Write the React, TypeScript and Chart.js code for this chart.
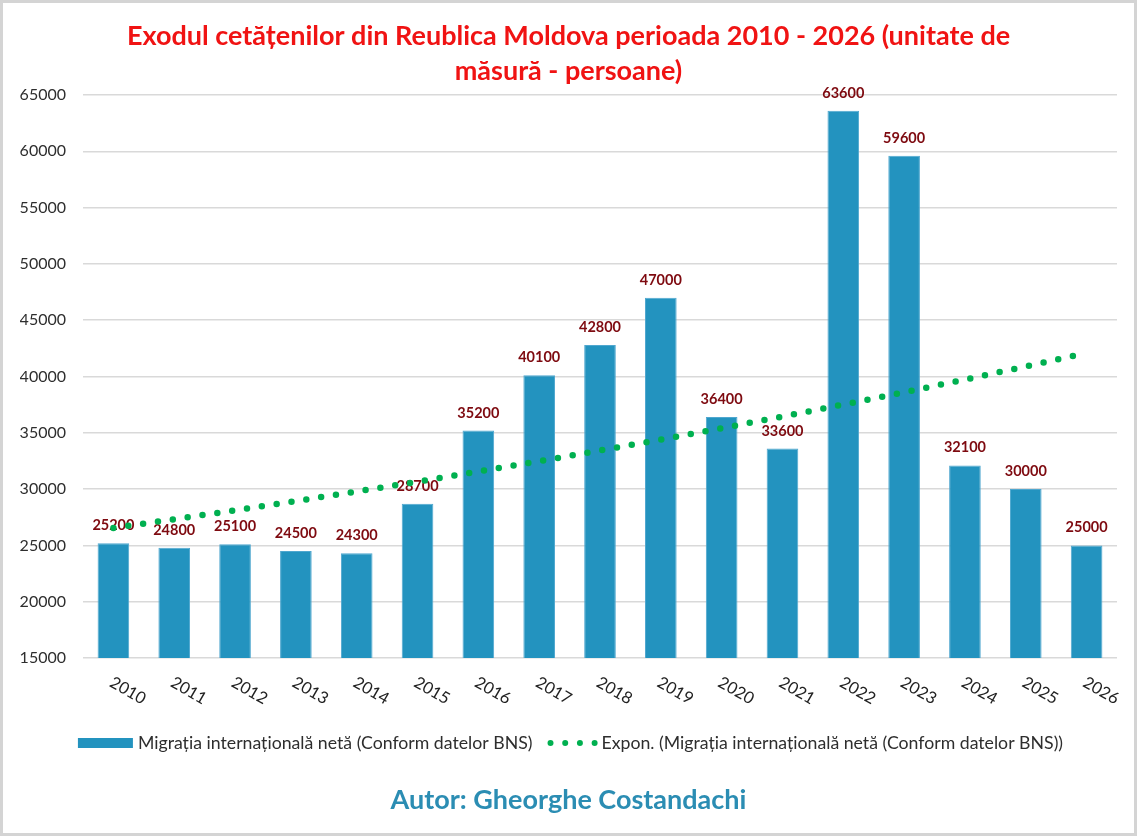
import React, { useEffect, useRef } from "react";
import { Chart, registerables } from "chart.js";

Chart.register(...registerables);

const years = ["2010", "2011", "2012", "2013", "2014", "2015", "2016", "2017", "2018", "2019", "2020", "2021", "2022", "2023", "2024", "2025", "2026"];
const migration = [25200, 24800, 25100, 24500, 24300, 28700, 35200, 40100, 42800, 47000, 36400, 33600, 63600, 59600, 32100, 30000, 25000];
const trend = [26550, 27320, 28120, 28940, 29790, 30660, 31560, 32480, 33430, 34400, 35410, 36440, 37510, 38600, 39730, 40890, 42090];
const yMin = 15000;
const yMax = 65000;
const yStep = 5000;
const titleLines = ["Exodul cetățenilor din Reublica Moldova perioada 2010 - 2026 (unitate de", "măsură - persoane)"];
const legendLabels = ["Migrația internațională netă (Conform datelor BNS)", "Expon. (Migrația internațională netă (Conform datelor BNS))"];
const author = "Autor: Gheorghe Costandachi";

const FONT = "Lato, 'Noto Sans', sans-serif";
const BAR = "#2393BF";
const GREEN = "#00B050";
const LABEL_RED = "#7E0A10";
const TEXT = "#2E2E2E";

export default function App() {
  const ref = useRef<HTMLCanvasElement>(null);

  useEffect(() => {
    const canvas = ref.current!;

    const frame = {
      id: "frame",
      beforeDraw(c: any) {
        const ctx = c.ctx;
        ctx.save();
        ctx.fillStyle = "#ffffff";
        ctx.fillRect(0, 0, c.width, c.height);
        ctx.restore();
      },
      afterDraw(c: any) {
        const ctx = c.ctx;
        ctx.save();
        ctx.strokeStyle = "#D4D4D4";
        ctx.lineWidth = 3;
        ctx.strokeRect(1.5, 1.5, c.width - 3, c.height - 3);
        ctx.restore();
      },
    };

    const barLabels = {
      id: "barLabels",
      afterDatasetDraw(c: any, args: any) {
        if (args.index !== 0) return;
        const ctx = c.ctx;
        const meta = c.getDatasetMeta(0);
        ctx.save();
        ctx.font = `bold 14.5px ${FONT}`;
        ctx.fillStyle = LABEL_RED;
        ctx.textAlign = "center";
        ctx.textBaseline = "alphabetic";
        meta.data.forEach((el: any, i: number) => {
          ctx.fillText(String(migration[i]), el.x, el.y - 13);
        });
        ctx.restore();
      },
    };

    const xLabels = {
      id: "xLabels",
      afterDraw(c: any) {
        const ctx = c.ctx;
        const xs = c.scales.x;
        ctx.save();
        ctx.font = `16.5px ${FONT}`;
        ctx.fillStyle = "#222222";
        ctx.textAlign = "left";
        ctx.textBaseline = "top";
        years.forEach((lab, i) => {
          const x = xs.getPixelForValue(i);
          ctx.save();
          ctx.translate(x + 2, c.chartArea.bottom + 16);
          ctx.rotate((30 * Math.PI) / 180);
          ctx.fillText(lab, 0, 0);
          ctx.restore();
        });
        ctx.restore();
      },
    };

    const customLegend = {
      id: "customLegend",
      afterDraw(c: any) {
        const ctx = c.ctx;
        ctx.save();
        ctx.font = `17.7px ${FONT}`;
        const boxW = 55;
        const boxH = 10;
        const gap1 = 5;
        const itemGap = 15;
        const dotsW = 50;
        const gap2 = 4;
        const w1 = ctx.measureText(legendLabels[0]).width;
        const w2 = ctx.measureText(legendLabels[1]).width;
        const total = boxW + gap1 + w1 + itemGap + dotsW + gap2 + w2;
        let x = 570.5 - total / 2;
        const y = c.chartArea.bottom + 85;
        ctx.fillStyle = BAR;
        ctx.fillRect(x, y - boxH / 2, boxW, boxH);
        x += boxW + gap1;
        ctx.fillStyle = TEXT;
        ctx.textAlign = "left";
        ctx.textBaseline = "middle";
        ctx.fillText(legendLabels[0], x, y);
        x += w1 + itemGap;
        ctx.fillStyle = GREEN;
        for (let k = 0; k < 4; k++) {
          ctx.beginPath();
          ctx.arc(x + 3 + k * 14.7, y, 3, 0, Math.PI * 2);
          ctx.fill();
        }
        x += dotsW + gap2;
        ctx.fillStyle = TEXT;
        ctx.fillText(legendLabels[1], x, y);
        ctx.restore();
      },
    };

    const chart = new Chart(canvas, {
      type: "bar",
      data: {
        labels: years,
        datasets: [
          {
            type: "bar",
            label: legendLabels[0],
            data: migration,
            backgroundColor: BAR,
            borderColor: "#4FA7CF",
            borderWidth: 1,
            categoryPercentage: 1,
            barPercentage: 0.52,
            order: 1,
          },
          {
            type: "line",
            label: legendLabels[1],
            data: trend,
            borderColor: GREEN,
            borderWidth: 6.5,
            borderDash: [0, 15],
            borderCapStyle: "round",
            pointRadius: 0,
            tension: 0,
            fill: false,
            order: 0,
          },
        ],
      },
      options: {
        responsive: false,
        animation: false,
        devicePixelRatio: 1,
        layout: { padding: { left: 20, right: 20, top: 0, bottom: 0 } },
        plugins: {
          legend: { display: false },
          tooltip: { enabled: false },
          title: {
            display: true,
            text: titleLines,
            color: "#F01313",
            font: { family: FONT, size: 27, weight: "bold", lineHeight: "35px" },
            padding: { top: 19, bottom: 6 },
          },
          subtitle: {
            display: true,
            position: "bottom",
            text: author,
            color: "#2B8DB3",
            font: { family: FONT, size: 27, weight: "bold", lineHeight: "30px" },
            padding: { top: 17, bottom: 21 },
          },
        },
        scales: {
          x: {
            grid: { display: false },
            border: { display: false },
            ticks: { display: false },
            afterFit(scale: any) {
              scale.height = 110;
            },
          },
          y: {
            min: yMin,
            max: yMax,
            grid: { color: "#D9D9D9", lineWidth: 1.5, drawTicks: false },
            border: { display: false },
            ticks: {
              stepSize: yStep,
              padding: 17,
              color: TEXT,
              font: { family: FONT, size: 16 },
              callback: (v: any) => String(v),
            },
            afterFit(scale: any) {
              scale.width = 63;
            },
          },
        },
      },
      plugins: [frame, barLabels, xLabels, customLegend],
    } as any);

    return () => chart.destroy();
  }, []);

  return (
    <div style={{ position: "absolute", left: 0, top: 0, width: 1137, height: 836, background: "#fff" }}>
      <canvas ref={ref} width={1137} height={836} style={{ display: "block" }} />
    </div>
  );
}
